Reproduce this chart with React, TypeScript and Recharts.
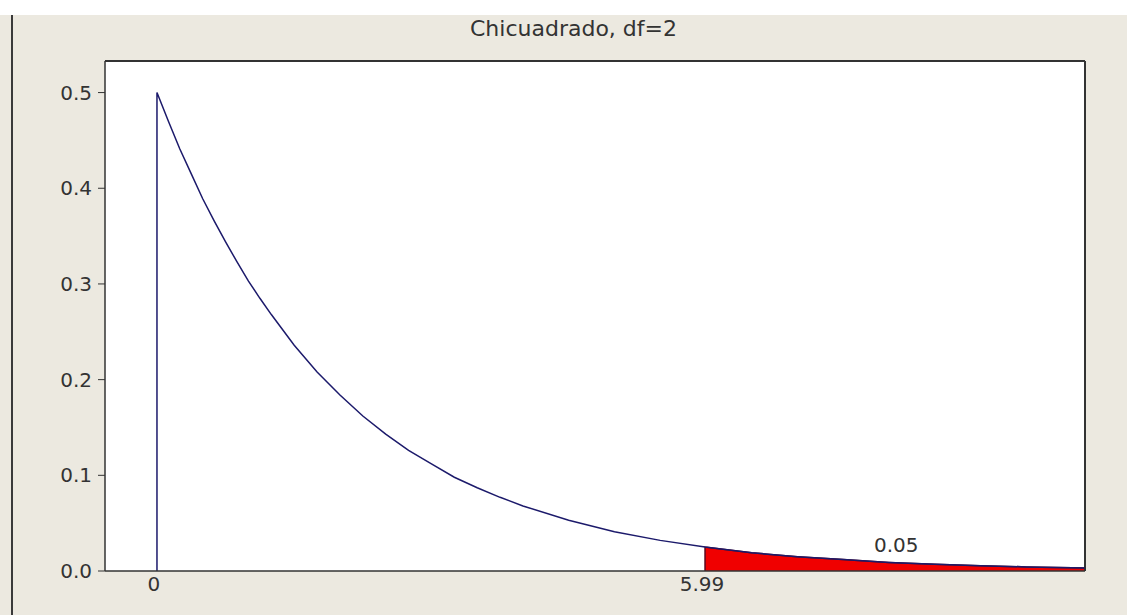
import React from 'react';
import {
  ComposedChart,
  Line,
  Area,
  XAxis,
  YAxis,
  CartesianGrid,
  ReferenceDot,
  ReferenceLine,
} from 'recharts';

// Curve (density values)
const xValues = [
  0, 0, 0.125, 0.25, 0.375, 0.5, 0.625, 0.75, 0.875, 1, 1.125, 1.25, 1.5, 1.75,
  2, 2.25, 2.5, 2.75, 3, 3.25, 3.5, 3.75, 4, 4.5, 5, 5.5, 5.99, 5.99, 6.5, 7,
  7.5, 8, 8.5, 9, 9.5, 10, 10.14,
];
const density = [
  0, 0.5, 0.47, 0.441, 0.415, 0.389, 0.366, 0.344, 0.323, 0.303, 0.285, 0.268,
  0.236, 0.208, 0.184, 0.162, 0.143, 0.126, 0.112, 0.098, 0.087, 0.077, 0.068,
  0.053, 0.041, 0.032, 0.025, 0.025, 0.019, 0.015, 0.012, 0.009, 0.007, 0.0056,
  0.0043, 0.0034, 0.0031,
];
// shaded upper tail, from the critical value onwards
const tail = [
  null, null, null, null, null, null, null, null, null, null, null, null, null,
  null, null, null, null, null, null, null, null, null, null, null, null, null,
  0, 0.025, 0.019, 0.015, 0.012, 0.009, 0.007, 0.0056, 0.0043, 0.0034, 0.0031,
];

const xTicks = [0, 5.99];
const yTicks = [0, 0.1, 0.2, 0.3, 0.4, 0.5];
const xDomain = [-0.568, 10.143];
const yDomain = [0, 0.533];
const title = 'Chicuadrado, df=2';
const tailArea = '0.05';
const tailLabelAt = { x: 8.08, y: 0.027 };

const data = xValues.map((x, i) => ({ x, pdf: density[i], tail: tail[i] }));

const font = '"DejaVu Sans", Verdana, sans-serif';
const ink = '#333333';
const tickStyle = { fontFamily: font, fontSize: 20, fill: ink };

export default function App() {
  return (
    <div
      style={{
        position: 'absolute',
        left: 0,
        top: 0,
        width: 1127,
        height: 615,
        background: '#ffffff',
        overflow: 'hidden',
      }}
    >
      <div
        style={{
          position: 'absolute',
          left: 0,
          top: 15,
          width: 1127,
          height: 600,
          background: '#ece9e0',
        }}
      />
      <div
        style={{
          position: 'absolute',
          left: 11,
          top: 15,
          width: 2,
          height: 600,
          background: '#3a3a3a',
        }}
      />
      <div
        style={{
          position: 'absolute',
          left: 470,
          top: 16,
          height: 26,
          lineHeight: '26px',
          fontFamily: font,
          fontSize: 22,
          color: ink,
          whiteSpace: 'nowrap',
        }}
      >
        {title}
      </div>
      <div style={{ position: 'absolute', left: 0, top: 0 }}>
        <ComposedChart
          width={1127}
          height={615}
          data={data}
          margin={{ top: 61, right: 42, bottom: 0, left: 0 }}
        >
          <CartesianGrid
            horizontal={false}
            vertical={false}
            fill="#ffffff"
            fillOpacity={1}
          />
          <XAxis
            dataKey="x"
            type="number"
            domain={xDomain}
            ticks={xTicks}
            tickFormatter={(v: number) => (v === 0 ? '0' : v.toFixed(2))}
            allowDataOverflow
            height={44}
            tickLine={false}
            tickSize={0}
            tickMargin={6}
            dx={-3}
            axisLine={{ stroke: ink, strokeWidth: 1.5 }}
            tick={tickStyle}
          />
          <YAxis
            type="number"
            domain={yDomain}
            ticks={yTicks}
            tickFormatter={(v: number) => v.toFixed(1)}
            allowDataOverflow
            width={105}
            tickSize={7}
            tickMargin={6}
            tickLine={{ stroke: ink }}
            axisLine={{ stroke: ink, strokeWidth: 1.5 }}
            tick={tickStyle}
          />
          {/* frame: top and right edges of the plot */}
          <ReferenceLine y={yDomain[1]} stroke={ink} strokeWidth={2} />
          <ReferenceLine x={xDomain[1]} stroke={ink} strokeWidth={2} />
          <Area
            dataKey="tail"
            type="linear"
            fill="#f00000"
            fillOpacity={1}
            stroke="#5a0a20"
            strokeWidth={1.5}
            connectNulls={false}
            isAnimationActive={false}
            dot={false}
            activeDot={false}
          />
          <Line
            dataKey="pdf"
            type="linear"
            stroke="#1c1a6b"
            strokeWidth={1.5}
            dot={false}
            activeDot={false}
            isAnimationActive={false}
          />
          <ReferenceDot
            x={tailLabelAt.x}
            y={tailLabelAt.y}
            r={0}
            fill="none"
            stroke="none"
            label={{ value: tailArea, position: 'center', ...tickStyle }}
          />
        </ComposedChart>
      </div>
    </div>
  );
}
